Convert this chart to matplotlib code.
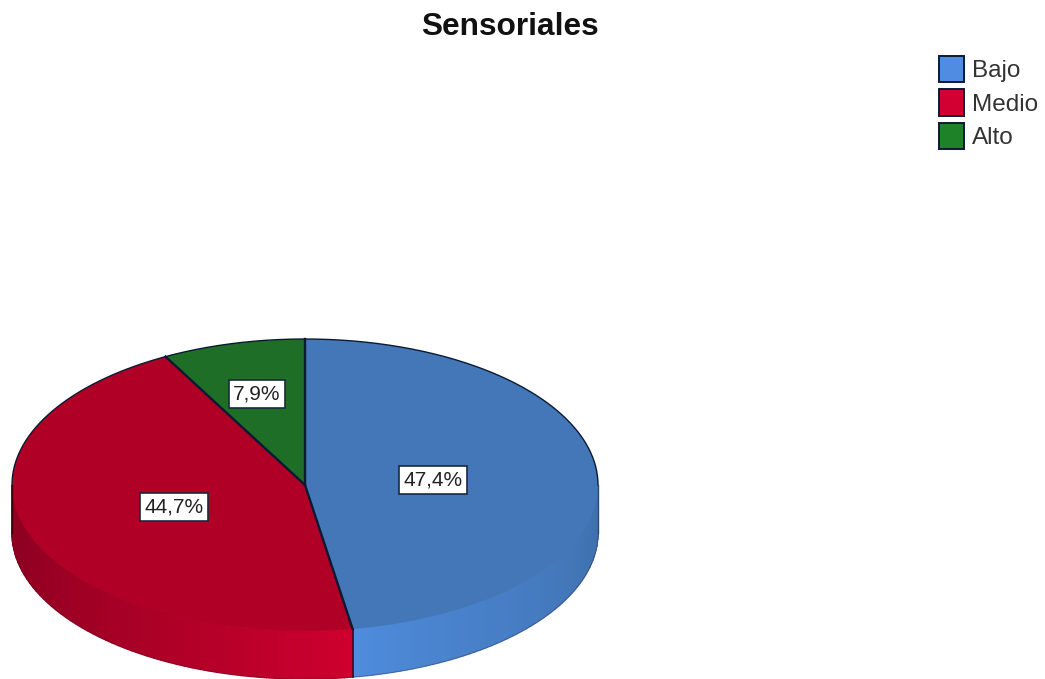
import numpy as np
import matplotlib
matplotlib.use("Agg")
from matplotlib import pyplot as plt
from matplotlib.patches import Patch

plt.rcParams['font.family'] = ['Liberation Sans', 'DejaVu Sans']

# DATA
categories = ["Bajo", "Medio", "Alto"]
percent = [47.4, 44.7, 7.9]
pct_labels = ["47,4%", "44,7%", "7,9%"]

# colours: top face, wall at the front, wall at the far side, legend
top_colors = ["#4377b8", "#b00026", "#1e6e28"]
wall_near = [(0.31, 0.55, 0.87), (0.82, 0.0, 0.18), (0.12, 0.43, 0.16)]
wall_far = [(0.24, 0.43, 0.66), (0.56, 0.0, 0.13), (0.12, 0.43, 0.16)]
legend_colors = ["#508ce1", "#d20032", "#1e8228"]
edge = "#0b1a33"

W, H = 1045, 679
cx, cy = 305, 485    # pie centre, pixels
rx, ry = 293, 146    # ellipse radii, pixels
depth = 48 / ry      # wall height in axes units

fig = plt.figure(figsize=(W / 100, H / 100), dpi=100)
ax = fig.add_axes([0, 0, 1, 1])

wedges, _ = ax.pie(percent, colors=top_colors, startangle=90, counterclock=False,
                   wedgeprops={"linewidth": 0}, radius=1, normalize=True)
for w in wedges:
    w.set_zorder(3)

# stretch the unit circle to the ellipse
ax.set_aspect("auto")
ax.set_xlim(-cx / rx, (W - cx) / rx)
ax.set_ylim(-(H - cy) / ry, cy / ry)

# side wall, cut into thin strips so the shade can change
bounds = np.concatenate([[0], np.cumsum(percent)]) / np.sum(percent) * 360
for i in range(len(percent)):
    a0, a1 = max(bounds[i], 90), min(bounds[i + 1], 270)
    if a1 <= a0:
        continue
    front = 180 - 9.4   # the brightest spot, at the slice border
    edges = np.linspace(a0, a1, 60)
    for s0, s1 in zip(edges[:-1], edges[1:]):
        t = min(abs((s0 + s1) / 2 - front) / 85, 1) ** 0.8
        col = (1 - t) * np.array(wall_near[i]) + t * np.array(wall_far[i])
        aa = np.radians(np.linspace(s0, s1, 4))
        xs = np.concatenate([np.sin(aa), np.sin(aa[::-1])])
        ys = np.concatenate([np.cos(aa), np.cos(aa[::-1]) - depth])
        ax.fill(xs, ys, color=col, lw=1.0, zorder=2)

# outlines: upper rim, slice borders, wall edges
arc = np.radians(np.linspace(-90, 90, 300))
ax.plot(np.sin(arc), np.cos(arc), color=edge, lw=1.0, zorder=4)
for b in bounds[:-1]:
    r = np.radians(b)
    ax.plot([0, np.sin(r)], [0, np.cos(r)], color=edge, lw=1.7, zorder=4)
r = np.radians(bounds[1])
ax.plot([np.sin(r), np.sin(r)], [np.cos(r), np.cos(r) - depth], color="#3a0a1a", lw=1.2, zorder=4)
ax.plot([-1, -1], [0, -depth], color="#400010", lw=1.0, zorder=4)
ax.plot([1, 1], [0, -depth], color="#2b4a70", lw=1.0, zorder=4)
low = np.radians(np.linspace(90, 270, 300))
ax.plot(np.sin(low), np.cos(low) - depth, color="#3a1020", lw=0.5, alpha=0.4, zorder=4)
ax.axis("off")

# percent labels
label_px = [(433, 480), (174, 507), (257, 394)]
for txt, (px, py) in zip(pct_labels, label_px):
    fig.text(px / W, 1 - py / H, txt, fontsize=15, color="#222222", ha="center", va="center",
             zorder=6, bbox={"boxstyle": "square,pad=0.2", "fc": "white", "ec": "#1a2a3a", "lw": 1.2})

fig.text(510 / W, 1 - 27 / H, "Sensoriales", fontsize=22.8, fontweight="bold",
         color="#111111", ha="center", va="center")

handles = [Patch(facecolor=c, edgecolor=edge, linewidth=1.4) for c in legend_colors]
leg = fig.legend(handles, categories, loc="upper left", bbox_to_anchor=(934 / W, 1 - 51 / H),
                 frameon=False, fontsize=17.5, handlelength=1.05, handleheight=1.3,
                 handletextpad=0.3, labelspacing=0.29, borderpad=0.2, borderaxespad=0)
for t in leg.get_texts():
    t.set_color("#333333")

fig.savefig("out.png", dpi=100, facecolor="white")
